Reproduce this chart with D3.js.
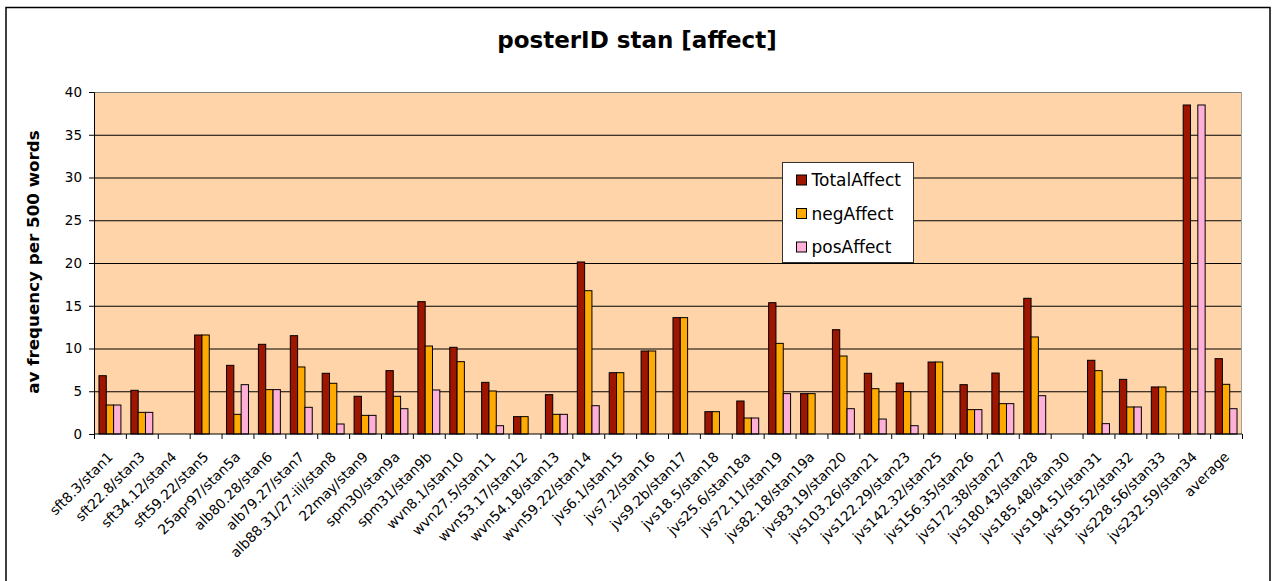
<!DOCTYPE html>
<html>
<head>
<meta charset="utf-8">
<script src="https://cdn.jsdelivr.net/npm/d3@7"></script>
<style>
  body { margin: 0; background: #fff; }
  svg { font-family: "DejaVu Sans", Verdana, sans-serif; }
</style>
</head>
<body>
<svg id="chart" width="1275" height="581"></svg>
<script>
const categories = ["sft8.3/stan1", "sft22.8/stan3", "sft34.12/stan4", "sft59.22/stan5", "25apr97/stan5a",
  "alb80.28/stan6", "alb79.27/stan7", "alb88.31/27-iii/stan8", "22may/stan9", "spm30/stan9a",
  "spm31/stan9b", "wvn8.1/stan10", "wvn27.5/stan11", "wvn53.17/stan12", "wvn54.18/stan13",
  "wvn59.22/stan14", "jvs6.1/stan15", "jvs7.2/stan16", "jvs9.2b/stan17", "jvs18.5/stan18",
  "jvs25.6/stan18a", "jvs72.11/stan19", "jvs82.18/stan19a", "jvs83.19/stan20", "jvs103.26/stan21",
  "jvs122.29/stan23", "jvs142.32/stan25", "jvs156.35/stan26", "jvs172.38/stan27", "jvs180.43/stan28",
  "jvs185.48/stan30", "jvs194.51/stan31", "jvs195.52/stan32", "jvs228.56/stan33", "jvs232.59/stan34",
  "average"];

const totalAffect = [6.82, 5.11, 0, 11.58, 8.03, 10.49, 11.5, 7.1, 4.41, 7.41,
  15.48, 10.14, 6.04, 2.03, 4.6, 20.12, 7.17, 9.71, 13.61, 2.61,
  3.86, 15.36, 4.72, 12.2, 7.1, 5.96, 8.42, 5.77, 7.13, 15.87,
  0, 8.62, 6.39, 5.5, 38.48, 8.81];
const negAffect = [3.39, 2.53, 0, 11.58, 2.3, 5.19, 7.84, 5.93, 2.18, 4.41,
  10.29, 8.46, 5.03, 2.03, 2.3, 16.76, 7.17, 9.71, 13.61, 2.61,
  1.87, 10.6, 4.72, 9.12, 5.3, 4.95, 8.42, 2.85, 3.55, 11.35,
  0, 7.41, 3.16, 5.5, 0, 5.81];
const posAffect = [3.39, 2.53, 0, 0, 5.77, 5.19, 3.12, 1.17, 2.18, 2.96,
  5.15, 0, 0.97, 0, 2.3, 3.31, 0, 0, 0, 0,
  1.87, 4.72, 0, 2.96, 1.75, 0.97, 0, 2.85, 3.55, 4.48,
  0, 1.21, 3.16, 0, 38.48, 2.96];

const seriesNames = ["TotalAffect", "negAffect", "posAffect"];
const seriesColors = ["#9e1500", "#ffaa00", "#ffb0d8"];
const yTicks = [0, 5, 10, 15, 20, 25, 30, 35, 40];

const series = [totalAffect, negAffect, posAffect];
const margin = { left: 94, right: 33, top: 92, bottom: 147 };
const W = 1275, H = 581;
const width = W - margin.left - margin.right;
const height = H - margin.top - margin.bottom;

const svg = d3.select("#chart");

// outer chart border
svg.append("rect")
  .attr("x", 6).attr("y", 7.5)
  .attr("width", 1264).attr("height", 600)
  .attr("fill", "none").attr("stroke", "#000").attr("stroke-width", 1.5);

svg.append("text")
  .attr("x", 637).attr("y", 48)
  .attr("text-anchor", "middle")
  .attr("font-weight", "bold")
  .attr("font-size", 23)
  .text("posterID stan [affect]");

const chart = svg.append("g")
  .attr("transform", "translate(" + margin.left + "," + margin.top + ")");

const xScale = d3.scaleBand().domain(categories).range([0, width]);
const xInner = d3.scaleBand().domain(seriesNames).range([0, xScale.bandwidth()])
  .paddingInner(0).paddingOuter(0.68);
const yScale = d3.scaleLinear().domain([0, 40]).range([height, 0]);

chart.append("rect")
  .attr("width", width).attr("height", height)
  .attr("fill", "#ffd4a8");

// gridlines
chart.append("g")
  .selectAll("line")
  .data(yTicks.filter(d => d > 0))
  .join("line")
  .attr("x1", 0).attr("x2", width)
  .attr("y1", d => yScale(d) + 0.5).attr("y2", d => yScale(d) + 0.5)
  .attr("stroke", d => d === 40 ? "#808080" : "#000")
  .attr("stroke-width", 1);

chart.append("line")
  .attr("x1", width - 0.5).attr("x2", width - 0.5)
  .attr("y1", 0).attr("y2", height)
  .attr("stroke", "#a0a0a0");

// bars
const groups = chart.append("g")
  .selectAll("g")
  .data(series)
  .join("g")
  .attr("fill", (d, i) => seriesColors[i]);

groups.selectAll("rect")
  .data((d, i) => d.map((v, j) => ({ v: v, cat: categories[j], s: seriesNames[i] })).filter(d => d.v > 0))
  .join("rect")
  .attr("x", d => xScale(d.cat) + xInner(d.s))
  .attr("y", d => yScale(d.v))
  .attr("width", xInner.bandwidth())
  .attr("height", d => height - yScale(d.v))
  .attr("stroke", "#000")
  .attr("stroke-width", 1);

// y axis
const yAxis = chart.append("g")
  .call(d3.axisLeft(yScale).tickValues(yTicks).tickSize(5).tickPadding(7));
yAxis.select(".domain").attr("stroke", "#000");
yAxis.selectAll("text").attr("font-size", 13.5).attr("font-family", "DejaVu Sans, Verdana, sans-serif").attr("fill", "#000");

// x axis: ticks on category boundaries
const xAxis = chart.append("g").attr("transform", "translate(0," + height + ")");
xAxis.append("line")
  .attr("x1", 0).attr("x2", width)
  .attr("stroke", "#000");
xAxis.selectAll("line.tick")
  .data(categories.concat(["end"]))
  .join("line")
  .attr("class", "tick")
  .attr("x1", (d, i) => i * xScale.step() + 0.5)
  .attr("x2", (d, i) => i * xScale.step() + 0.5)
  .attr("y1", 0).attr("y2", 5)
  .attr("stroke", "#000");
xAxis.selectAll("text")
  .data(categories)
  .join("text")
  .attr("transform", d => "translate(" + (xScale(d) + xScale.bandwidth() / 2 - 3) + ",17) rotate(-45)")
  .attr("text-anchor", "end")
  .attr("dy", "0.7em")
  .attr("font-size", 13.8)
  .attr("fill", "#000")
  .text(d => d);

// y axis title
svg.append("text")
  .attr("transform", "translate(39,262) rotate(-90)")
  .attr("text-anchor", "middle")
  .attr("font-weight", "bold")
  .attr("font-size", 16.7)
  .text("av frequency per 500 words");

// legend
const legend = svg.append("g").attr("transform", "translate(782.5,162.5)");
legend.append("rect")
  .attr("width", 131).attr("height", 100)
  .attr("fill", "#fff").attr("stroke", "#333");
const items = legend.selectAll("g")
  .data(seriesNames)
  .join("g")
  .attr("transform", (d, i) => "translate(14," + (12.5 + i * 33.5) + ")");
items.append("rect")
  .attr("width", 10).attr("height", 10)
  .attr("fill", (d, i) => seriesColors[i])
  .attr("stroke", "#000");
items.append("text")
  .attr("x", 15).attr("y", 11)
  .attr("font-size", 17)
  .attr("fill", "#000")
  .text(d => d);
</script>
</body>
</html>
